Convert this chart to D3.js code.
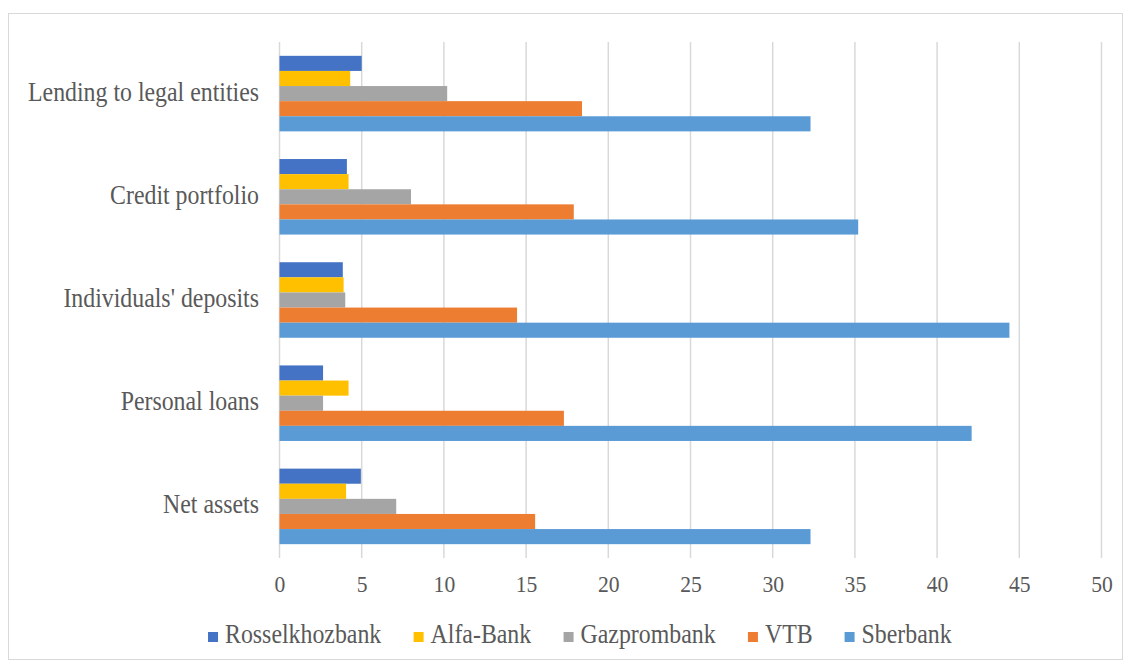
<!doctype html>
<html>
  <head>
    <meta charset="utf-8">
    <title>Banks bar chart</title>
    <script src="https://cdnjs.cloudflare.com/ajax/libs/d3/7.8.5/d3.min.js"></script>
  </head>
  <body style="margin:0">
    <div id="chart"></div>
    <script>
      // categories, top to bottom
      const categories = ["Lending to legal entities", "Credit portfolio", "Individuals' deposits", "Personal loans", "Net assets"];
      // banks, in the order bars appear inside a group (top to bottom)
      const banks = ["Rosselkhozbank", "Alfa-Bank", "Gazprombank", "VTB", "Sberbank"];
      const colors = ["#4472C4", "#FFC000", "#A5A5A5", "#ED7D31", "#5B9BD5"];

      // values per bank, same order as categories
      const rosselkhozbank = [5.0, 4.1, 3.85, 2.65, 4.95];
      const alfaBank       = [4.3, 4.2, 3.9, 4.2, 4.05];
      const gazprombank    = [10.2, 8.0, 4.0, 2.65, 7.1];
      const vtb            = [18.4, 17.9, 14.45, 17.3, 15.55];
      const sberbank       = [32.3, 35.2, 44.4, 42.1, 32.3];
      const values = [rosselkhozbank, alfaBank, gazprombank, vtb, sberbank];

      const xTicks = [0, 5, 10, 15, 20, 25, 30, 35, 40, 45, 50];

      const FONT = 'Liberation Serif';
      const SX = 0.9; // the reference text is a bit narrow
      const W = 1131, H = 666;
      const svg = d3.select('#chart').append('svg')
        .attr('width', W)
        .attr('height', H);

      // chart frame
      svg.append('rect')
        .attr('x', 8.5).attr('y', 13.5)
        .attr('width', 1114).attr('height', 646)
        .attr('fill', '#fff')
        .attr('stroke', '#d9d9d9')
        .attr('stroke-width', 1);

      const x = d3.scaleLinear().domain([0, 50]).range([279.5, 1101.5]);
      const y = d3.scaleBand().domain(categories).range([42, 558])
        .paddingInner(0.268).paddingOuter(0.134);
      const yInner = d3.scaleBand().domain(banks).range([0, y.bandwidth()]);

      // gridlines
      svg.append('g')
        .selectAll('line')
        .data(xTicks)
        .join('line')
        .attr('x1', d => x(d)).attr('x2', d => x(d))
        .attr('y1', 42).attr('y2', 558)
        .attr('stroke', '#d9d9d9')
        .attr('stroke-width', 1.5);

      // bars
      const rows = [];
      banks.forEach((b, i) => {
        categories.forEach((c, j) => rows.push({ bank: b, cat: c, v: values[i][j], color: colors[i] }));
      });
      svg.append('g')
        .selectAll('rect')
        .data(rows)
        .join('rect')
        .attr('x', x(0))
        .attr('y', d => y(d.cat) + yInner(d.bank))
        .attr('width', d => x(d.v) - x(0))
        .attr('height', yInner.bandwidth())
        .attr('fill', d => d.color);

      // x tick labels
      const xAxis = svg.append('g')
        .attr('transform', 'translate(0,592)')
        .call(d3.axisBottom(x).tickValues(xTicks).tickSize(0).tickPadding(0));
      xAxis.select('.domain').remove();
      xAxis.selectAll('text')
        .attr('dy', 0)
        .attr('y', 0)
        .attr('transform', `scale(${SX},1)`)
        .attr('font-family', FONT)
        .attr('font-size', 24)
        .attr('fill', '#595959');

      // category labels
      svg.append('g')
        .selectAll('text')
        .data(categories)
        .join('text')
        .attr('transform', d => `translate(259,${y(d) + y.bandwidth() / 2 + 7}) scale(${SX},1)`)
        .attr('text-anchor', 'end')
        .attr('font-family', FONT)
        .attr('font-size', 26.5)
        .attr('fill', '#595959')
        .text(d => d);

      // legend
      const legend = svg.append('g').attr('transform', 'translate(0,643)');
      const items = legend.selectAll('g')
        .data(banks)
        .join('g');
      items.append('rect')
        .attr('width', 10).attr('height', 10)
        .attr('y', -11)
        .attr('fill', (d, i) => colors[i]);
      items.append('text')
        .attr('transform', `translate(17,0) scale(${SX},1)`)
        .attr('font-family', FONT)
        .attr('font-size', 26.5)
        .attr('fill', '#595959')
        .text(d => d);
      const gap = 32;
      let pos = 0;
      const offsets = [];
      items.each(function () {
        offsets.push(pos);
        pos += this.getBBox().width + gap;
      });
      const start = 580 - (pos - gap) / 2;
      items.attr('transform', (d, i) => `translate(${start + offsets[i]},0)`);
    </script>
  </body>
</html>
